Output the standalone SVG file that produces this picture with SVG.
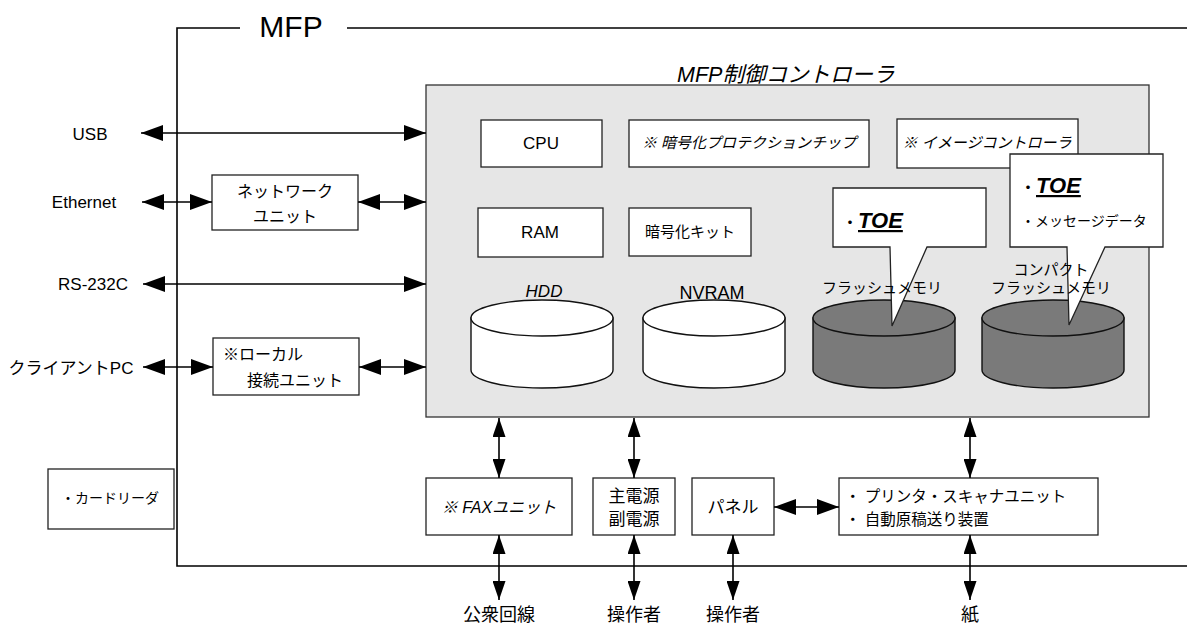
<svg xmlns="http://www.w3.org/2000/svg" width="1187" height="625" viewBox="0 0 1187 625">
<defs>
<style>
text{font-family:"Liberation Sans","Noto Sans CJK JP",sans-serif;fill:#000}
.box{fill:#fff;stroke:#222;stroke-width:1.3}
.frame{fill:none;stroke:#000;stroke-width:1.6}
.con{stroke:#000;stroke-width:1.6;fill:none}
.h{marker-start:url(#ah);marker-end:url(#ah)}
.v{marker-start:url(#av);marker-end:url(#av)}
.cyl{stroke:#111;stroke-width:1.4}
.w{fill:#fff}
.g{fill:#7a7a7a}
.it{font-style:italic}
.toe{font-weight:bold;font-style:italic;font-size:22px;text-decoration:underline}
.dot{font-weight:bold;font-size:14px}
</style>
<marker id="ah" markerUnits="userSpaceOnUse" markerWidth="22" markerHeight="16" viewBox="0 0 22 16" refX="22" refY="8" orient="auto-start-reverse"><path d="M0,0 L22,8 L0,16 Z" fill="#000"/></marker>
<marker id="av" markerUnits="userSpaceOnUse" markerWidth="19" markerHeight="13" viewBox="0 0 19 13" refX="19" refY="6.5" orient="auto-start-reverse"><path d="M0,0 L19,6.5 L0,13 Z" fill="#000"/></marker>
</defs>
<rect width="1187" height="625" fill="#fff"/>

<g id="mfp-frame">
<path class="frame" d="M240,28 H177 V566 H1187"/>
<path class="frame" d="M347,28 H1187"/>
<text x="291" y="37" font-size="30" text-anchor="middle">MFP</text>
</g>

<g id="controller">
<rect x="426" y="85" width="723" height="332" fill="#e6e6e6" stroke="#333" stroke-width="1.3"/>
<text x="677" y="82" font-size="21.5" class="it">MFP制御コントローラ</text>
</g>

<g id="cpu"><rect class="box" x="481" y="120" width="121" height="47"/><text x="541" y="149" font-size="17" text-anchor="middle">CPU</text></g>
<g id="crypto-chip"><rect class="box" x="629" y="120" width="240" height="47"/><text x="749" y="148" font-size="15" text-anchor="middle" class="it">※ 暗号化プロテクションチップ</text></g>
<g id="image-controller"><rect class="box" x="897" y="119" width="181" height="49"/><text x="987" y="148" font-size="15" text-anchor="middle" class="it">※ イメージコントローラ</text></g>
<g id="ram"><rect class="box" x="478" y="208" width="125" height="49"/><text x="540" y="238" font-size="17" text-anchor="middle">RAM</text></g>
<g id="crypto-kit"><rect class="box" x="629" y="208" width="122" height="48"/><text x="690" y="237" font-size="15" text-anchor="middle">暗号化キット</text></g>

<g id="hdd">
<path class="cyl w" d="M471,318 V370 A71,18 0 0 0 613,370 V318 Z"/>
<ellipse class="cyl w" cx="542" cy="318" rx="71" ry="18"/>
<text x="544" y="297" font-size="17" text-anchor="middle" class="it">HDD</text>
</g>
<g id="nvram">
<path class="cyl w" d="M643,318 V370 A71,18 0 0 0 785,370 V318 Z"/>
<ellipse class="cyl w" cx="714" cy="318" rx="71" ry="18"/>
<text x="712" y="299" font-size="18" text-anchor="middle">NVRAM</text>
</g>
<g id="flash">
<path class="cyl g" d="M813,318 V370 A71,18 0 0 0 955,370 V318 Z"/>
<ellipse class="cyl g" cx="884" cy="318" rx="71" ry="18"/>
<path class="box" d="M833,188 H986 V247 H927 L892,326 L890,247 H833 Z"/>
<text x="843" y="227" class="dot">・</text>
<text x="858" y="228" class="toe">TOE</text>
<text x="882" y="293" font-size="15" text-anchor="middle">フラッシュメモリ</text>
</g>
<g id="compact-flash">
<path class="cyl g" d="M982,318 V370 A71,18 0 0 0 1124,370 V318 Z"/>
<ellipse class="cyl g" cx="1053" cy="318" rx="71" ry="18"/>
<path class="box" d="M1010,154 H1163 V247 H1105 L1069,325 L1067,247 H1010 Z"/>
<text x="1021" y="192" class="dot">・</text>
<text x="1036" y="193" class="toe">TOE</text>
<text x="1021" y="226" font-size="14">・メッセージデータ</text>
<text x="1051" y="275" font-size="15" text-anchor="middle">コンパクト</text>
<text x="1051" y="293" font-size="15" text-anchor="middle">フラッシュメモリ</text>
</g>

<g id="network-unit"><rect class="box" x="212" y="175" width="146" height="55"/><text x="285" y="197" font-size="16" text-anchor="middle">ネットワーク</text><text x="285" y="222" font-size="16" text-anchor="middle">ユニット</text></g>
<g id="local-unit"><rect class="box" x="213" y="338" width="146" height="57"/><text x="223" y="360" font-size="16">※ローカル</text><text x="247" y="386" font-size="16">接続ユニット</text></g>
<g id="card-reader"><rect class="box" x="48" y="469" width="126" height="60"/><text x="110" y="503" font-size="14" text-anchor="middle">・カードリーダ</text></g>

<g id="fax-unit"><rect class="box" x="426" y="478" width="146" height="57"/><text x="499" y="513" font-size="16" text-anchor="middle" class="it">※ FAXユニット</text></g>
<g id="power"><rect class="box" x="593" y="478" width="82" height="57"/><text x="634" y="502" font-size="17" text-anchor="middle">主電源</text><text x="634" y="525" font-size="17" text-anchor="middle">副電源</text></g>
<g id="panel"><rect class="box" x="692" y="478" width="82" height="57"/><text x="733" y="513" font-size="17" text-anchor="middle">パネル</text></g>
<g id="printer"><rect class="box" x="839" y="478" width="259" height="57"/><text x="845" y="502" font-size="15.5">・ プリンタ・スキャナユニット</text><text x="845" y="525" font-size="15.5">・ 自動原稿送り装置</text></g>

<g id="labels">
<text x="90" y="140" font-size="17" text-anchor="middle">USB</text>
<text x="84" y="208" font-size="17" text-anchor="middle">Ethernet</text>
<text x="93" y="290" font-size="17" text-anchor="middle">RS-232C</text>
<text x="71" y="374" font-size="17" text-anchor="middle">クライアントPC</text>
<text x="499" y="621" font-size="18" text-anchor="middle">公衆回線</text>
<text x="634" y="621" font-size="18" text-anchor="middle">操作者</text>
<text x="733" y="621" font-size="18" text-anchor="middle">操作者</text>
<text x="970" y="621" font-size="18" text-anchor="middle">紙</text>
</g>

<g id="connectors">
<line class="con h" x1="141" y1="133" x2="426" y2="133"/>
<line class="con h" x1="142" y1="202" x2="212" y2="202"/>
<line class="con h" x1="358" y1="202" x2="426" y2="202"/>
<line class="con h" x1="143" y1="284" x2="426" y2="284"/>
<line class="con h" x1="143" y1="367" x2="213" y2="367"/>
<line class="con h" x1="359" y1="367" x2="426" y2="367"/>
<line class="con h" x1="774" y1="507" x2="839" y2="507"/>
<line class="con v" x1="499" y1="418" x2="499" y2="478"/>
<line class="con v" x1="499" y1="535" x2="499" y2="600"/>
<line class="con v" x1="634" y1="418" x2="634" y2="478"/>
<line class="con v" x1="634" y1="535" x2="634" y2="600"/>
<line class="con v" x1="733" y1="535" x2="733" y2="600"/>
<line class="con v" x1="970" y1="418" x2="970" y2="478"/>
<line class="con v" x1="970" y1="535" x2="970" y2="600"/>
</g>
</svg>
